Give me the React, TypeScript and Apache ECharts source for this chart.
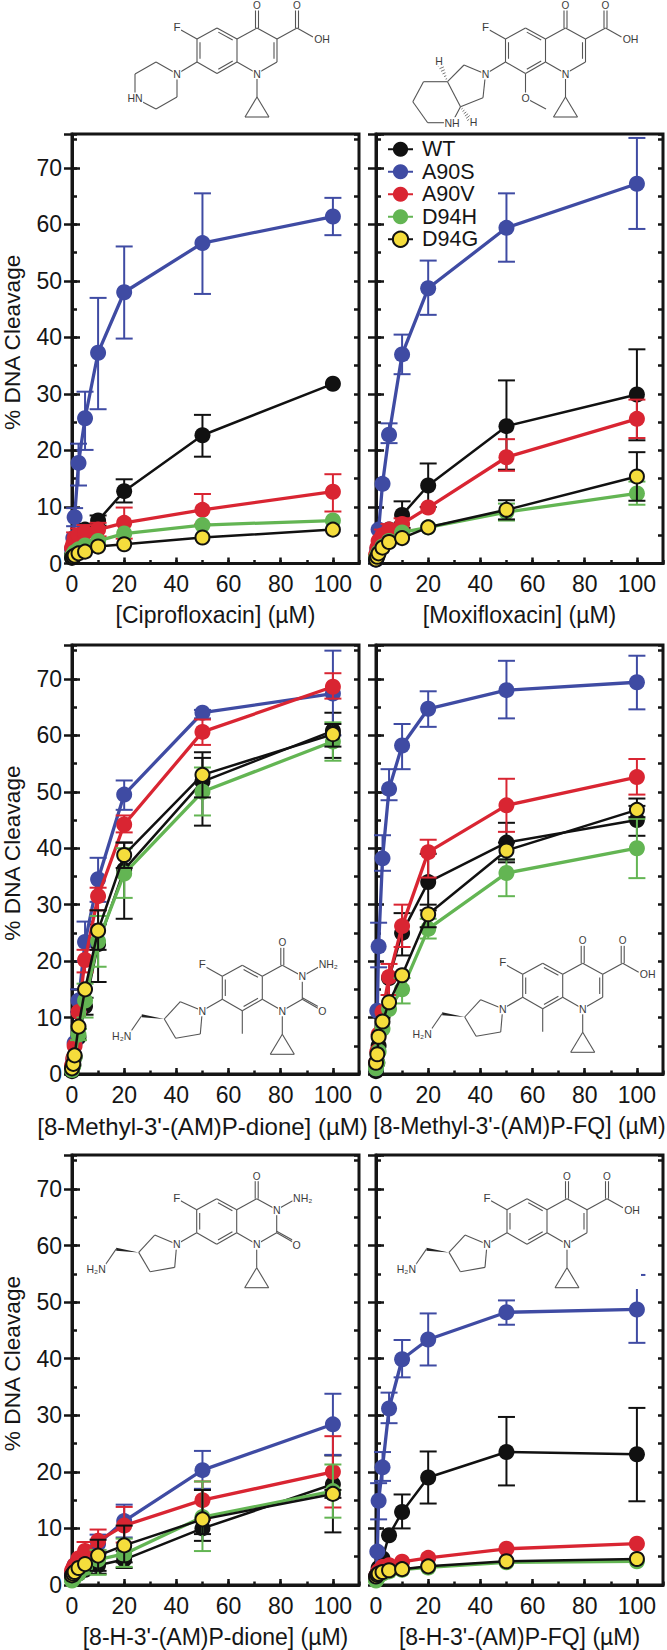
import React, { useEffect, useRef } from "react";
import * as echarts from "echarts";

const n = null;
const doses = [0, 0.5, 1, 2.5, 5, 10, 20, 50, 100];
const strains = ["WT", "A90S", "A90V", "D94H", "D94G"];
const strainColors = ["#111111", "#3F4BA3", "#D92532", "#63B553", "#F5DD3C"];
const xTicksTitle = ["[Ciprofloxacin] (µM)", "[Moxifloxacin] (µM)", "[8-Methyl-3'-(AM)P-dione] (µM)", "[8-Methyl-3'-(AM)P-FQ] (µM)", "[8-H-3'-(AM)P-dione] (µM)", "[8-H-3'-(AM)P-FQ] (µM)"];
const yTitle = "% DNA Cleavage";

const ciproValues = [
  [1.5, 2.2, 3, 4.2, 6, 7.6, 12.8, 22.7, 31.8],
  [2.5, 4.5, 8.2, 17.8, 25.7, 37.3, 48, 56.7, 61.4],
  [2.8, 3.5, 4.5, 5, 5.5, 6, 7.2, 9.5, 12.7],
  [1.2, 1.6, 2, 2.5, 3.2, 4, 5.3, 6.8, 7.6],
  [1, 1.2, 1.4, 1.8, 2.1, 3, 3.4, 4.6, 6],
];
const ciproHigh = [
  [n, n, n, n, 7, 8.5, 14.9, 26.3, n],
  [n, n, 9.8, 21.2, 30.4, 47, 56.1, 65.5, 64.7],
  [n, n, 5.5, 6.2, 6.8, 7.2, 9.9, 12.3, 15.8],
  [n, n, n, n, n, n, n, n, n],
  [n, n, n, n, n, n, n, n, n],
];
const ciproLow = [
  [n, n, n, n, 5, 6.7, 10.8, 18.9, n],
  [n, n, 6.6, 13.8, 20.1, 27.3, 39.8, 47.7, 58.1],
  [n, n, 3.5, 3.8, 4.2, 4.8, 4.4, 6.9, 9.2],
  [n, n, n, n, n, n, n, n, n],
  [n, n, n, n, n, n, n, n, n],
];

const moxiValues = [
  [0.8, 1.8, 3, 4.5, 6, 8.6, 13.8, 24.3, 29.9],
  [0.7, 2.5, 6, 14.1, 22.8, 37, 48.7, 59.4, 67.2],
  [1.5, 2.8, 4, 5, 6, 7, 9.9, 18.8, 25.6],
  [1, 1.5, 2, 3, 4, 5.5, 6.4, 9.1, 12.4],
  [0.7, 1.2, 1.8, 2.8, 3.8, 4.5, 6.4, 9.5, 15.4],
];
const moxiHigh = [
  [n, n, n, n, n, 11, 17.7, 32.4, 37.9],
  [n, n, n, n, 24.8, 40.5, 53.6, 65.5, 75.3],
  [n, n, n, 6, 7, 8, n, 22, 29],
  [n, n, n, n, n, n, n, 10.6, 14.5],
  [n, n, n, n, n, n, n, 11.2, 19.7],
];
const moxiLow = [
  [n, n, n, n, n, 6.3, 10, 16.6, 21.8],
  [n, n, n, n, 21.3, 33.5, 44, 53.4, 59.2],
  [n, n, n, 4, 5, 6, n, 16.4, 22.2],
  [n, n, n, n, n, n, n, 7.6, 10.4],
  [n, n, n, n, n, n, n, 7.8, 11.1],
];

const methylDioneValues = [
  [0.5, 1.5, 3, 6.5, 12, 23, 36.2, 51.8, 60.8],
  [1, 2.5, 5.5, 13, 23.4, 34.5, 49.5, 64, 67.4],
  [1.5, 2.8, 5, 11, 20.2, 31.5, 44.2, 60.6, 68.6],
  [0.7, 1.5, 3, 7, 13, 23.5, 35.5, 50, 58.9],
  [1, 1.8, 3.3, 8.4, 15, 25.4, 38.8, 53, 60.2],
];
const methylDioneHigh = [
  [n, n, n, n, 13.5, 26.5, 41, 56, 64],
  [n, n, n, 15, 27, 38.3, 52, 64.5, 75],
  [n, n, n, n, 22, 33, 45.8, 62.8, 71],
  [n, n, n, 8, 16, 28, 40, 54.3, 62.3],
  [n, n, n, n, n, 29, 41, 57, 62],
];
const methylDioneLow = [
  [n, n, n, n, 10.5, 16.3, 27.5, 44, 56],
  [n, n, n, 11, 20, 30.5, 46.8, 63, 60],
  [n, n, n, n, 18, 29, 42.8, 58.3, 66.5],
  [n, n, n, 6, 10, 19, 31.2, 45.8, 55.5],
  [n, n, n, n, n, 22, 36.5, 49, 58],
];

const methylFqValues = [
  [0.5, 2, 5, 10, 17, 25, 34, 41, 45],
  [1, 11.2, 22.6, 38.2, 50.5, 58.2, 64.7, 68, 69.4],
  [2, 4, 7, 11, 17.2, 26.2, 39.3, 47.6, 52.6],
  [1, 2, 4, 8, 11.5, 15, 25.7, 35.6, 40],
  [2, 3.5, 6.6, 9.3, 12.7, 17.5, 28.3, 39.6, 46.8],
];
const methylFqHigh = [
  [n, n, n, n, n, 28.5, 39, 44.5, 48.8],
  [n, n, 26.8, 42.3, 54, 62, 67.8, 73.2, 74.1],
  [n, n, n, n, 19.5, 30, 41.5, 52.3, 55.8],
  [n, n, n, n, n, 17, 27.5, 38, 45.2],
  [n, n, n, n, n, n, 30, 41, 47.5],
];
const methylFqLow = [
  [n, n, n, n, n, 21, 29, 37.5, 42.2],
  [n, n, 18.9, 36, 48.5, 54, 61.5, 63, 64.6],
  [n, n, n, n, 14, 22.5, 34.8, 42.9, 49.5],
  [n, n, n, n, n, 12.5, 24, 31.5, 34.7],
  [n, n, n, n, n, n, 26, 38, 45.5],
];

const hDioneValues = [
  [1, 1.2, 1.5, 2, 2.7, 3.5, 4.5, 10, 17.8],
  [2, 2.8, 3.5, 4.5, 5.5, 7.3, 11.3, 20.3, 28.4],
  [2.5, 3, 3.5, 4.7, 6, 7.8, 10.5, 15, 20],
  [0.8, 1.1, 1.4, 2, 3, 4.5, 5.5, 12, 16.6],
  [1.7, 2, 2.3, 3, 3.7, 5.2, 7, 11.6, 16.1],
];
const hDioneHigh = [
  [n, n, n, n, n, 5, 6, 16.8, 22.9],
  [n, n, n, n, n, 8.9, 14.2, 23.7, 33.8],
  [n, n, n, n, 7.6, 9.8, 13.8, 18.3, 26.3],
  [n, n, n, n, n, 6.2, 8.2, 18.3, 21.3],
  [n, n, n, n, n, 8, 10.5, 16.8, 16.8],
];
const hDioneLow = [
  [n, n, n, n, n, 2, 3, 7.8, 9.3],
  [n, n, n, n, n, 5.5, 8.4, 17, 23],
  [n, n, n, n, 4.4, 5.8, 7.5, 11.5, 13.7],
  [n, n, n, n, n, 1.8, 3.2, 6, 11.9],
  [n, n, n, n, n, 2.5, 4, 9, 15.4],
];

const hFqValues = [
  [1, 2, 3, 4.7, 8.8, 12.9, 19, 23.5, 23.1],
  [1.5, 5.9, 14.9, 20.8, 31.2, 39.9, 43.4, 48.2, 48.7],
  [1.5, 2, 2.5, 3.2, 3.5, 4.1, 4.8, 6.4, 7.3],
  [0.8, 1.2, 1.6, 2, 2.4, 2.7, 3.1, 4, 4.2],
  [1.5, 1.8, 2, 2.3, 2.6, 2.8, 3.3, 4.2, 4.6],
];
const hFqHigh = [
  [n, n, n, n, n, 16, 23.6, 29.7, 31.3],
  [n, n, 18, 23.5, 34, 43.3, 48, 50.3, 54.8],
  [n, n, n, n, n, n, n, n, n],
  [n, n, n, n, n, n, n, n, n],
  [n, n, n, n, n, n, n, n, n],
];
const hFqLow = [
  [n, n, n, n, n, 10, 14.4, 17.6, 14.8],
  [n, n, 11.6, 18.4, 28.6, 36.7, 38.8, 46, 42.8],
  [n, n, n, n, n, n, n, n, n],
  [n, n, n, n, n, n, n, n, n],
  [n, n, n, n, n, n, n, n, n],
];

const panelData = [
  [ciproValues, ciproHigh, ciproLow],
  [moxiValues, moxiHigh, moxiLow],
  [methylDioneValues, methylDioneHigh, methylDioneLow],
  [methylFqValues, methylFqHigh, methylFqLow],
  [hDioneValues, hDioneHigh, hDioneLow],
  [hFqValues, hFqHigh, hFqLow],
];

const PANEL_W = 287;
const panelLefts = [72, 376];
const panelTops = [134, 645, 1155];
const panelHeights = [429.5, 429, 430];
const INK = "#151515";
const FONT = "'Liberation Sans', Arial, sans-serif";
const BOND = "#555555";
const ATOM = "#3c3c3c";

function line(ax: number, ay: number, bx: number, by: number, w = 1.1): any {
  return { type: "line", z: 10, shape: { x1: ax, y1: ay, x2: bx, y2: by }, style: { stroke: BOND, lineWidth: w } };
}
function atom(text: string, x: number, y: number, size = 10.5): any {
  return {
    type: "text", z: 11, x, y,
    style: { text, x: 0, y: 0, align: "center", verticalAlign: "middle", fontSize: size, fontFamily: FONT, fill: ATOM, backgroundColor: "#ffffff", padding: [0, 0.5, 0, 0.5] },
  };
}
function inner(ax: number, ay: number, bx: number, by: number, cx: number, cy: number): any {
  const mx = (ax + bx) / 2, my = (ay + by) / 2;
  const dx = cx - mx, dy = cy - my, d = Math.hypot(dx, dy);
  const ox = (dx / d) * 3, oy = (dy / d) * 3;
  const sx = (bx - ax) * 0.14, sy = (by - ay) * 0.14;
  return line(ax + ox + sx, ay + oy + sy, bx + ox - sx, by + oy - sy);
}
function hash(ax: number, ay: number, bx: number, by: number): any[] {
  const out: any[] = [];
  const dx = bx - ax, dy = by - ay, L = Math.hypot(dx, dy);
  const px = -dy / L, py = dx / L;
  for (let i = 1; i <= 6; i++) {
    const t = i / 6, hw = 0.4 + t * 2.4;
    out.push(line(ax + dx * t + px * hw, ay + dy * t + py * hw, ax + dx * t - px * hw, ay + dy * t - py * hw, 0.8));
  }
  return out;
}
function coreBonds(): any[] {
  return [
    line(0, -23, 20, -34), line(20, -34, 40, -23), line(40, -23, 40, 0), line(40, 0, 20, 11.5), line(20, 11.5, 0, 0), line(0, 0, 0, -23),
    inner(20, -34, 40, -23, 20, -11.5), inner(0, 0, 0, -23, 20, -11.5), inner(40, 0, 20, 11.5, 20, -11.5),
    line(40, -23, 60, -34), line(40, 0, 60, 11.5),
    line(58.5, -34, 58.5, -52), line(61.5, -34, 61.5, -52),
    line(0, -23, -16, -32),
    line(60, 11.5, 60, 35), line(60, 35, 48, 55), line(60, 35, 72, 55), line(48, 55, 72, 55),
  ];
}
function quinoloneRest(): any[] {
  return [
    line(60, -34, 80, -23), line(80, -23, 80, 0), line(80, 0, 60, 11.5), inner(80, -23, 80, 0, 60, -11.5),
    line(80, -23, 100, -34), line(98.5, -34, 98.5, -52), line(101.5, -34, 101.5, -52),
    line(100, -34, 116, -25),
    atom("O", 60, -56.5, 10), atom("O", 100, -56.5, 10), atom("OH", 125, -23), atom("F", -20, -35, 11.5), atom("N", 60, 11.5),
  ];
}
function dioneRest(): any[] {
  return [
    line(60, -34, 80, -23), line(80, -23, 80, 0), line(80, 0, 60, 11.5),
    line(80, 0, 100, 11.5), line(80, -1.5, 98, 8.5), line(80, -23, 96, -32),
    atom("O", 60, -56.5, 10), atom("O", 100, 12), atom("N", 80, -23), atom("NH₂", 106, -35), atom("F", -20, -35, 11.5), atom("N", 60, 11.5),
  ];
}
function aminoPyrrolidine(): any[] {
  return [
    line(0, 0, -20, 11.5), line(-20, 11.5, -42, 2.4), line(-42, 2.4, -58, 19.7), line(-58, 19.7, -46.6, 39), line(-46.6, 39, -22, 34.7), line(-22, 34.7, -20, 11.5),
    { type: "polygon", z: 10, shape: { points: [[-58, 19.7], [-80.5, 15], [-80.5, 18]] }, style: { fill: "#222222" } },
    line(-80.6, 16.4, -92, 33),
    atom("N", -20, 11.5), atom("H₂N", -100.6, 36.4),
  ];
}
function piperazine(): any[] {
  return [
    line(0, 0, -20, 12), line(-20, 12, -20, 35), line(-20, 35, -41, 47), line(-41, 47, -62, 36), line(-62, 36, -62, 12), line(-62, 12, -41, 0), line(-41, 0, -20, 12),
    atom("N", -20, 12), atom("HN", -62, 36),
  ];
}
function moxiRing(): any[] {
  return [
    line(0, 0, -20, 12), line(-20, 12, -41.5, 3), line(-41.5, 3, -58, 19.7), line(-58, 19.7, -45, 44.7), line(-45, 44.7, -22.5, 35.7), line(-22.5, 35.7, -20, 12),
    line(-58, 19.7, -82, 19.7), line(-82, 19.7, -92.7, 39.7), line(-92.7, 39.7, -77.8, 60.7), line(-77.8, 60.7, -53.5, 60.7), line(-53.5, 60.7, -45, 44.7),
    ...hash(-58, 19.7, -65, 3), ...hash(-45, 44.7, -36, 57),
    line(20, 11.5, 20, 36), line(20, 36, 40.5, 47),
    atom("N", -20, 12), atom("NH", -53.5, 60.7), atom("H", -66.5, -1.3), atom("H", -32, 59.7), atom("O", 20, 36),
  ];
}
function molecule(x: number, y: number, parts: any[]): any {
  return { type: "group", x, y, z: 10, children: parts };
}
const methyl = () => [line(20, 11.5, 20, 34.5)];

const molecules = () => [
  molecule(197, 62, [...coreBonds(), ...quinoloneRest(), ...piperazine()]),
  molecule(505.5, 62, [...coreBonds(), ...quinoloneRest(), ...moxiRing()]),
  molecule(222.3, 999.3, [...coreBonds(), ...dioneRest(), ...aminoPyrrolidine(), ...methyl()]),
  molecule(522.7, 997.3, [...coreBonds(), ...quinoloneRest(), ...aminoPyrrolidine(), ...methyl()]),
  molecule(196.7, 1232.7, [...coreBonds(), ...dioneRest(), ...aminoPyrrolidine()]),
  molecule(507, 1232.7, [...coreBonds(), ...quinoloneRest(), ...aminoPyrrolidine()]),
  { type: "rect", z: 100, shape: { x: 620, y: 1268, width: 21, height: 21 }, style: { fill: "#ffffff" } },
  { type: "rect", z: 100, shape: { x: 632, y: 1276, width: 20, height: 13 }, style: { fill: "#ffffff" } },
];

function buildOption(): any {
  const grid: any[] = [], xAxis: any[] = [], yAxis: any[] = [], series: any[] = [];
  panelData.forEach((panel, i) => {
    const col = i % 2, row = Math.floor(i / 2);
    const rect = { left: panelLefts[col], top: panelTops[row], width: PANEL_W, height: panelHeights[row], outerBoundsMode: "none" };
    grid.push({ ...rect, show: true, borderColor: INK, borderWidth: 3, backgroundColor: "transparent" });
    grid.push({ ...rect, show: false });
    const titleShift = i === 2 ? [0, 26, 0, 0] : 0;
    const tickFont = { color: INK, fontSize: 23, fontFamily: FONT };
    xAxis.push({
      gridIndex: 2 * i, type: "value", min: 0, max: 110, interval: 20, position: "bottom",
      axisLine: { show: true, lineStyle: { color: INK, width: 3 } },
      axisTick: { show: true, inside: true, length: 6, lineStyle: { color: INK, width: 2.5 } },
      axisLabel: { ...tickFont, margin: 9, showMaxLabel: false },
      splitLine: { show: false },
      name: xTicksTitle[i], nameLocation: "middle", nameGap: 40,
      nameTextStyle: { color: INK, fontSize: i === 2 ? 24 : 23, fontFamily: FONT, padding: titleShift },
    });
    xAxis.push({
      gridIndex: 2 * i + 1, type: "value", min: 0, max: 110, interval: 10, position: "bottom",
      axisLine: { show: false }, axisLabel: { show: false }, splitLine: { show: false },
      axisTick: { show: true, inside: true, length: 3.5, lineStyle: { color: INK, width: 2.5 } },
    });
    const yBase = (position: string, g: number, interval: number, length: number) => ({
      gridIndex: g, type: "value", min: 0, max: 76, interval, position,
      axisLine: { show: false }, splitLine: { show: false },
      axisTick: { show: true, inside: true, length, lineStyle: { color: INK, width: 2.5 } },
      axisLabel: { show: false },
    });
    yAxis.push({
      ...yBase("left", 2 * i, 10, 8),
      axisLine: { show: true, onZero: false, lineStyle: { color: INK, width: 3 } },
      axisLabel: { show: col === 0, ...tickFont, margin: 10, showMaxLabel: false },
      ...(col === 0 ? {
        name: yTitle, nameLocation: "middle", nameGap: 49, nameRotate: 90,
        nameTextStyle: { color: INK, fontSize: 22.7, fontFamily: FONT, padding: [0, 0, 0, 13] },
      } : {}),
    });
    yAxis.push(yBase("right", 2 * i, 10, 8));
    yAxis.push(yBase("left", 2 * i + 1, 5, 5));
    yAxis.push(yBase("right", 2 * i + 1, 5, 5));

    const [values, high, low] = panel;
    strains.forEach((name, s) => {
      const color = strainColors[s];
      const lineColor = s === 4 ? "#111111" : color;
      const bars: any[] = [];
      doses.forEach((d, k) => {
        if (high[s][k] != null && low[s][k] != null) bars.push([d, low[s][k], high[s][k]]);
      });
      series.push({
        type: "custom", coordinateSystem: "cartesian2d", xAxisIndex: 2 * i, yAxisIndex: 4 * i, z: 2 + 2 * s, silent: true,
        encode: { x: 0, y: [1, 2] }, data: bars,
        renderItem: (_: any, api: any) => {
          const x = api.value(0);
          const a = api.coord([x, api.value(1)]);
          const b = api.coord([x, api.value(2)]);
          const st = { stroke: lineColor, lineWidth: 2, fill: "none" };
          return {
            type: "group",
            children: [
              { type: "line", shape: { x1: a[0], y1: a[1], x2: b[0], y2: b[1] }, style: st },
              { type: "line", shape: { x1: a[0] - 8.5, y1: a[1], x2: a[0] + 8.5, y2: a[1] }, style: st },
              { type: "line", shape: { x1: b[0] - 8.5, y1: b[1], x2: b[0] + 8.5, y2: b[1] }, style: st },
            ],
          };
        },
      });
      series.push({
        type: "line", name, xAxisIndex: 2 * i, yAxisIndex: 4 * i, z: 3 + 2 * s, clip: false,
        data: doses.map((d, k) => [d, values[s][k]]),
        symbol: "circle", symbolSize: s === 4 ? 14 : 16, showSymbol: true,
        lineStyle: { color: lineColor, width: s === 0 || s === 4 ? 2.5 : 3.3 },
        itemStyle: s === 4 ? { color, borderColor: "#111111", borderWidth: 2 } : { color },
      });
    });
  });
  return {
    animation: false,
    backgroundColor: "#ffffff",
    grid, xAxis, yAxis, series,
    legend: {
      show: true, selectedMode: false, orient: "vertical", left: 387, top: 138,
      data: strains, itemWidth: 25, itemHeight: 19, itemGap: 0, padding: 0,
      textStyle: { color: INK, fontSize: 21.5, fontFamily: FONT, padding: [0, 0, 0, 4], lineHeight: 22.5 },
    },
    graphic: { elements: molecules() },
  };
}

export default function App() {
  const ref = useRef<HTMLDivElement>(null);
  useEffect(() => {
    const chart = echarts.init(ref.current!, undefined, { renderer: "svg" });
    chart.setOption(buildOption());
    return () => chart.dispose();
  }, []);
  return <div ref={ref} style={{ position: "absolute", left: 0, top: 0, width: 667, height: 1650 }} />;
}
